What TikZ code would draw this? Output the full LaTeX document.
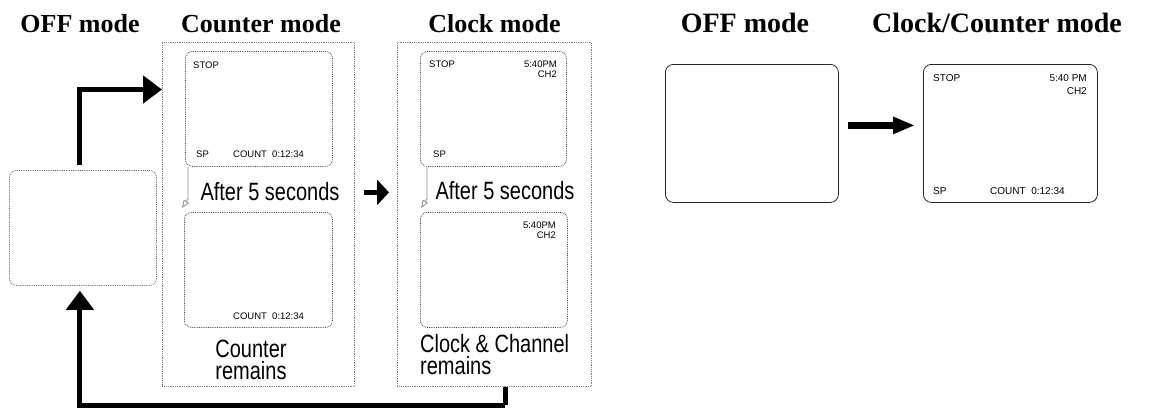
\documentclass[tikz,border=0pt]{standalone}
\usepackage{fontspec}
\setmainfont{Liberation Serif}
\newfontfamily\lab[FakeStretch=0.8]{Liberation Sans}
\newfontfamily\scr{Liberation Sans}
\usetikzlibrary{arrows.meta,positioning}
\begin{document}
\begin{tikzpicture}[x=1pt,y=-1pt,
  title/.style={font=\bfseries\fontsize{26}{28}\selectfont, anchor=base, inner sep=0pt},
  titleR/.style={font=\bfseries\fontsize{28}{30}\selectfont, anchor=base, inner sep=0pt},
  lbl/.style={font=\lab\fontsize{25}{22}\selectfont, inner sep=0pt},
  sm/.style={font=\scr\fontsize{9.5}{10}\selectfont, inner sep=0pt},
  smR/.style={font=\scr\fontsize{10}{10}\selectfont, inner sep=0pt},
  box/.style={draw=black!50, densely dotted, line width=0.8pt, anchor=north west, inner sep=0pt},
  scrL/.style={draw=black!75, densely dotted, line width=0.8pt, rounded corners=7pt, anchor=north west, inner sep=0pt},
  scrR/.style={draw=black!85, line width=0.8pt, rounded corners=8pt, anchor=north west, inner sep=0pt},
  bigarrow/.style={line width=5pt, -{Triangle[length=19pt,width=27pt]}},
  midarrow/.style={line width=5pt, -{Triangle[length=12pt,width=25pt]}},
  rarrow/.style={line width=7pt, -{Triangle[length=22pt,width=16pt]}},
  grayarrow/.style={draw=black!45, line width=0.8pt, -{Triangle[open,length=8pt,width=6pt]}}
]
\useasboundingbox (0,0) rectangle (1156,407);

% titles
\node[title] (t1) at (80,32) {OFF mode};
\node[title] (t2) at (261,32) {Counter mode};
\node[title] (t3) at (494.5,32) {Clock mode};
\node[titleR] (t4) at (745,32) {OFF mode};
\node[titleR] (t5) at (997,32) {Clock/Counter mode};

% containers
\node[box, minimum width=192pt, minimum height=344pt] (cntbox) at (162,42) {};
\node[box, minimum width=194pt, minimum height=344pt] (clkbox) at (397,42) {};

% left screens
\node[scrL, draw=black!65, minimum width=147pt, minimum height=115pt] (offL) at (9,170) {};
\node[scrL, minimum width=147pt, minimum height=115pt] (cntA) at (185,51) {};
\node[scrL, minimum width=148pt, minimum height=115pt] (cntB) at (184,212) {};
\node[scrL, minimum width=146pt, minimum height=115pt] (clkA) at (420,51) {};
\node[scrL, minimum width=147pt, minimum height=115pt] (clkB) at (420,212) {};

% right screens
\node[scrR, minimum width=173pt, minimum height=138pt] (offR) at (665,64) {};
\node[scrR, minimum width=174pt, minimum height=138pt] (ccR) at (923,64) {};

% screen texts
\node[sm, anchor=base west] (s1) at (193,68) {STOP};
\node[sm, anchor=base west] (s2) at (196,157) {SP};
\node[sm, anchor=base west] (s3) at (233,157) {COUNT\ \ 0:12:34};
\node[sm, anchor=base west] (s4) at (233,319) {COUNT\ \ 0:12:34};
\node[sm, anchor=base west] (s5) at (429,67) {STOP};
\node[sm, anchor=base east] (s6) at (557,67) {5:40PM};
\node[sm, anchor=base east] (s7) at (557,77) {CH2};
\node[sm, anchor=base west] (s8) at (433,157) {SP};
\node[sm, anchor=base east] (s9) at (556,228) {5:40PM};
\node[sm, anchor=base east] (s10) at (556,238) {CH2};
\node[smR, anchor=base west] (r1) at (933,81) {STOP};
\node[smR, anchor=base east] (r2) at (1087,81) {5:40 PM};
\node[smR, anchor=base east] (r3) at (1087,94) {CH2};
\node[smR, anchor=base west] (r4) at (933,194) {SP};
\node[smR, anchor=base west] (r5) at (990,194) {COUNT\ \ 0:12:34};

% labels
\node[lbl, anchor=base] (a1) at (270,200) {After 5 seconds};
\node[lbl, anchor=base] (a2) at (505,199) {After 5 seconds};
\node[lbl, align=center, anchor=north] (c1) at (251,340) {Counter\\remains};
\node[lbl, align=left, anchor=north west] (k1) at (420,334) {Clock \& Channel\\remains};

% gray small arrows
\draw[grayarrow] ([xshift=3pt]cntA.south west) -- ++(0,32) -- ([xshift=-2pt,yshift=4pt]cntB.north west);
\draw[grayarrow] ([xshift=7pt]clkA.south west) -- ++(0,32) -- ([xshift=1pt,yshift=4pt]clkB.north west);

% black arrows
\draw[bigarrow] ([xshift=-3pt,yshift=5pt]offL.north) |- ([yshift=-47.5pt]cntbox.north west);
\draw[midarrow] ([xshift=9pt,yshift=22pt]cntbox.east) -- ([xshift=-8pt,yshift=22pt]clkbox.west);
\draw[line width=5pt] ([xshift=11pt]clkbox.south) -- ++(0,18.5) coordinate (bc);
\draw[bigarrow] (bc) -| ([xshift=-3pt,yshift=-5pt]offL.south);
\draw[rarrow] ([xshift=9pt,yshift=8pt]offR.east) -- ([xshift=-8pt,yshift=8pt]ccR.west);
\end{tikzpicture}
\end{document}
